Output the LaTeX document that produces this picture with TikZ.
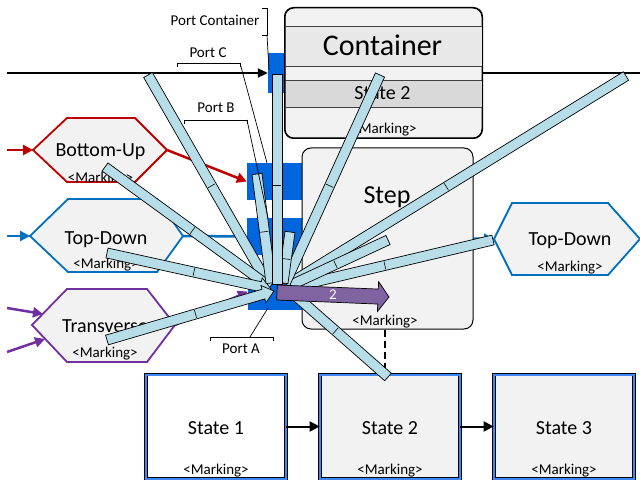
\documentclass[tikz,border=0pt]{standalone}
\usepackage{fontspec}
\setmainfont{Carlito}
\usetikzlibrary{calc,arrows.meta}
\definecolor{barfill}{HTML}{B7DEE8}
\definecolor{portblue}{HTML}{0066DD}
\definecolor{hexred}{HTML}{C00000}
\definecolor{hexblue}{HTML}{0070C0}
\definecolor{hexpurple}{HTML}{7030A0}
\definecolor{boxgray}{HTML}{F2F2F2}
\definecolor{hdrgray}{HTML}{E8E8E8}
\definecolor{stgray}{HTML}{D9D9D9}
\definecolor{arrowpurple}{HTML}{8064A2}
\definecolor{stateblue}{HTML}{3F87F5}
\newcommand{\linkbar}[2]{%
  \filldraw[barst] ($(#1)!5pt!90:(#2)$) -- ($(#1)!5pt!-90:(#2)$) -- ($(#2)!5pt!90:(#1)$) -- ($(#2)!5pt!-90:(#1)$) -- cycle;
  \coordinate (tk) at ($(#1)!0.53!(#2)$);
  \draw[line width=0.6pt] ($(tk)!4pt!90:(#2)$) -- ($(tk)!4pt!-90:(#2)$);
}
\newcommand{\linkarrow}[2]{%
  \coordinate (hd) at ($(#2)!11pt!(#1)$);
  \filldraw[barst] ($(#1)!5pt!90:(#2)$) -- ($(#1)!5pt!-90:(#2)$) -- ($(hd)!5pt!90:(#1)$) -- ($(hd)!9pt!90:(#1)$) -- (#2) -- ($(hd)!9pt!-90:(#1)$) -- ($(hd)!5pt!-90:(#1)$) -- cycle;
  \coordinate (tk) at ($(#1)!0.53!(#2)$);
  \draw[line width=0.6pt] ($(tk)!4pt!90:(#2)$) -- ($(tk)!4pt!-90:(#2)$);
}
\begin{document}
\begin{tikzpicture}[x=1pt,y=-1pt,
  portrect/.style={fill=portblue, draw=none, inner sep=0pt},
  txts/.style={font=\fontsize{15}{18}\selectfont, inner sep=0pt, anchor=base},
  txtm/.style={font=\fontsize{20}{24}\selectfont, inner sep=0pt, anchor=base},
  barst/.style={fill=barfill, draw=black, line width=0.7pt, line join=miter},
  hexst/.style={fill=boxgray, line width=1.8pt},
  roundbox/.style={draw, line width=1pt, fill=boxgray, rounded corners=9pt, inner sep=0pt},
  statebox/.style={draw=black, line width=0.7pt, double=stateblue, double distance=2pt, minimum width=140pt, minimum height=104pt, inner sep=0pt},
  flow/.style={line width=2.5pt, -{Triangle[length=10pt,width=10pt]}},
  brk/.style={line width=0.7pt},
]
\useasboundingbox (0,0) rectangle (640,481);

% ports
\node[portrect, minimum width=17pt, minimum height=40pt] (pcont) at (276.5,73) {};
\node[portrect, minimum width=55pt, minimum height=37pt] (portC) at (274.5,181.5) {};
\node[portrect, minimum width=55pt, minimum height=37pt] (portB) at (274.5,236.5) {};
\node[portrect, minimum width=54pt, minimum height=37pt] (portA) at (275,291.5) {};

% container
\node[roundbox, minimum width=197pt, minimum height=130pt] (cont) at (383.5,73) {};
\fill[hdrgray] (285.5,26) rectangle (481.5,66);
\fill[stgray] (285.5,80) rectangle (481.5,107);
\draw[line width=0.8pt, black!75] (285,26) -- (482,26) (285,66) -- (482,66) (285,80) -- (482,80) (285,107) -- (482,107);
\draw[line width=1pt, rounded corners=9pt] (cont.north west) rectangle (cont.south east);
\node[font=\fontsize{30}{36}\selectfont, inner sep=0pt, anchor=base] (conttxt) at (382.5,56) {Container};
\node[txtm] (contst) at (382.5,100) {State 2};
\node[txts] (contmk) at (384,134) {<Marking>};

% step
\node[roundbox, minimum width=171pt, minimum height=181pt] (step) at (387.5,238.5) {};
\node[font=\fontsize{26}{30}\selectfont, inner sep=0pt, anchor=base] (steptxt) at (387,204) {Step};
\node[txts] (stepmk) at (385,325) {<Marking>};

% states
\node[statebox, fill=white] (s1) at (216,426.5) {};
\node[statebox, fill=boxgray] (s2) at (390,426.5) {};
\node[statebox, fill=boxgray] (s3) at (564,426.5) {};
\node[txtm] (s1t) at (216,434) {State 1};
\node[txtm] (s2t) at (390,434) {State 2};
\node[txtm] (s3t) at (564,434) {State 3};
\node[txts] (s1m) at (216,474) {<Marking>};
\node[txts] (s2m) at (390,474) {<Marking>};
\node[txts] (s3m) at (564,474) {<Marking>};
\draw[flow, line width=2pt] (s1) -- (s2);
\draw[flow, line width=2pt] (s2) -- (s3);
\draw[line width=2.2pt, dash pattern=on 7pt off 4pt] ($(step.south)+(-2.5,0)$) -- ($(s2.north)+(-5,0)$);

% hexagons
\draw[hexst, draw=hexred] (33,150) -- (67,118) -- (135,118) -- (167,150) -- (135,182) -- (67,182) -- cycle;
\coordinate (buW) at (33,150); \coordinate (buE) at (167,150); \coordinate (buIn) at (7,150);
\node[txtm] (butxt) at (100.5,157) {Bottom-Up};
\node[txts] (bumk) at (100.5,183) {<Marking>};
\draw[flow, hexred] (buIn) -- (buW);
\draw[flow, hexred] (buE) -- (portC.west);

\draw[hexst, draw=hexblue] (30,236) -- (68,199) -- (157,199) -- (183,236) -- (157,272) -- (68,272) -- cycle;
\coordinate (tdW) at (30,236); \coordinate (tdE) at (183,236); \coordinate (tdIn) at (7,236);
\node[txtm] (tdtxt) at (106,244) {Top-Down};
\node[txts] (tdmk) at (106,269) {<Marking>};
\draw[flow, hexblue] (tdIn) -- (tdW);
\draw[flow, hexblue] (tdE) -- (portB.west);

\draw[hexst, draw=hexpurple] (32,325) -- (67,289) -- (147,289) -- (175,325) -- (147,362) -- (67,362) -- cycle;
\coordinate (trE) at (175,325); \coordinate (trA) at (43,314); \coordinate (trB) at (45,339);
\coordinate (trInA) at (7,308); \coordinate (trInB) at (7,352);
\node[txtm] (trtxt) at (105,332) {Transverse};
\node[txts] (trmk) at (105,357) {<Marking>};
\draw[flow, hexpurple] (trInA) -- (trA);
\draw[flow, hexpurple] (trInB) -- (trB);
\draw[flow, hexpurple] (trE) -- (portA.west);

\draw[hexst, draw=hexblue] (494,239) -- (512,203) -- (608,203) -- (640,239) -- (608,275) -- (512,275) -- cycle;
\coordinate (rtW) at (494,239);
\node[txtm] (rttxt) at (570,246) {Top-Down};
\node[txts] (rtmk) at (570,271) {<Marking>};
\draw[flow, hexblue] (step.east) -- (rtW);

% main line
\coordinate (lineIn) at (7,73); \coordinate (lineOut) at (640,73);
\draw[line width=2pt, -{Triangle[length=10pt,width=9pt]}] (lineIn) -- (pcont.west);
\draw[line width=2pt] (cont.east) -- (lineOut);

% bars
\coordinate (b1a) at (148,75);  \coordinate (b1b) at (268,284);
\coordinate (b2a) at (105,167); \coordinate (b2b) at (270,287);
\coordinate (b3a) at (107,253); \coordinate (b3b) at (271,289);
\coordinate (b4a) at (107,340); \coordinate (b4b) at (274,291);
\coordinate (b5a) at (277,74);  \coordinate (b5b) at (277,284);
\coordinate (b6a) at (257,174); \coordinate (b6b) at (271,283);
\coordinate (b7a) at (290,232); \coordinate (b7b) at (283,283);
\coordinate (b8a) at (380,75);  \coordinate (b8b) at (285,284);
\coordinate (b9a) at (626,76);  \coordinate (b9b) at (287,285);
\coordinate (b10a) at (388,240); \coordinate (b10b) at (289,286);
\coordinate (b11a) at (493,240); \coordinate (b11b) at (289,288);
\coordinate (b12a) at (388,377); \coordinate (b12b) at (289,290);
\linkbar{b1a}{b1b}
\linkbar{b2a}{b2b}
\linkarrow{b3a}{b3b}
\linkarrow{b4a}{b4b}
\linkbar{b9a}{b9b}
\linkbar{b11a}{b11b}
\linkbar{b10a}{b10b}
\linkbar{b12a}{b12b}
\linkbar{b8a}{b8b}
\linkbar{b7a}{b7b}
\linkbar{b6a}{b6b}
\linkbar{b5a}{b5b}

% purple block arrow
\coordinate (pa) at (277,292.5); \coordinate (pb) at (389,297);
\coordinate (ph) at ($(pb)!11pt!(pa)$);
\filldraw[fill=arrowpurple, draw=black, line width=0.7pt] ($(pa)!7.5pt!90:(pb)$) -- ($(pa)!7.5pt!-90:(pb)$) -- ($(ph)!7.5pt!90:(pa)$) -- ($(ph)!15pt!90:(pa)$) -- (pb) -- ($(ph)!15pt!-90:(pa)$) -- ($(ph)!7.5pt!-90:(pa)$) -- cycle;
\node[font=\fontsize{15}{18}\selectfont, text=white, inner sep=0pt] (two) at ($(pa)!0.5!(pb)$) {2};

% port labels
\node[txts] (lPC) at (215,26) {Port Container};
\draw[brk] (262,8) -- (267,8) -- (267,35) -- (262,35);
\draw[brk] (267,35) -- (269,70);
\node[txts] (lC) at (208,58) {Port C};
\draw[brk] (177,67) -- (177,63) -- (240,63) -- (240,67);
\draw[brk] (240,63) -- (267,163);
\node[txts] (lB) at (216,113) {Port B};
\draw[brk] (184,124) -- (184,120) -- (247,120) -- (247,124);
\draw[brk] (247,120) -- (268,218);
\node[txts] (lA) at (241,353) {Port A};
\draw[brk] (210,341) -- (210,337) -- (273,337) -- (273,341);
\draw[brk] (250,337) -- (268,308);
\end{tikzpicture}
\end{document}
